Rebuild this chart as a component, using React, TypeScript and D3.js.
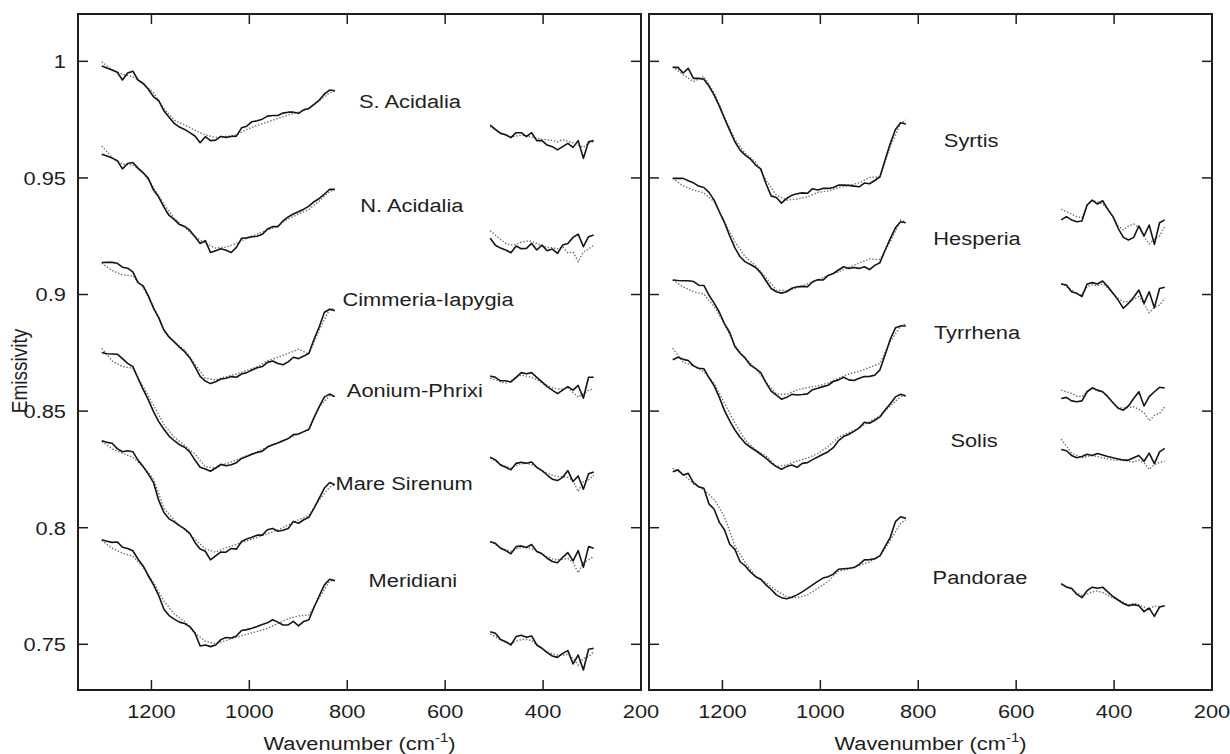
import React from "react";
import * as d3 from "d3";

// Wavenumber grids (cm-1): measured spectra use the full sampling, model fits every other channel
const obsWn = [1301.5, 1290.9, 1280.3, 1269.8, 1259.2, 1248.6, 1238.0, 1227.5, 1216.9, 1206.3, 1195.7, 1185.1, 1174.5, 1164.0, 1153.4, 1142.8, 1132.2, 1121.7, 1111.1, 1100.5, 1089.9, 1079.4, 1068.8, 1058.2, 1047.6, 1037.0, 1026.4, 1015.9, 1005.3, 994.7, 984.1, 973.6, 963.0, 952.4, 941.8, 931.2, 920.6, 910.1, 899.5, 888.9, 878.3, 867.8, 857.2, 846.6, 836.0, 825.4];
const fitWn = [1301.5, 1280.3, 1259.2, 1238.0, 1216.9, 1195.7, 1174.5, 1153.4, 1132.2, 1111.1, 1089.9, 1068.8, 1047.6, 1026.4, 1005.3, 984.1, 963.0, 941.8, 920.6, 899.5, 878.3, 857.2, 836.0, 825.4];
const loWn = [508.0, 497.4, 486.9, 476.3, 465.7, 455.1, 444.6, 434.0, 423.4, 412.9, 402.3, 391.7, 381.1, 370.6, 360.0, 349.4, 338.8, 328.3, 317.7, 307.1, 296.6];

const xTicks = [1200, 1000, 800, 600, 400, 200];
const yTicks = [0.75, 0.8, 0.85, 0.9, 0.95, 1];
const yTickLabels = ["0.75", "0.8", "0.85", "0.9", "0.95", "1"];

// ---- Left panel regions: measured (obs) and model fit (fit) ----
const sAcidaliaObs = [0.9980, 0.9971, 0.9963, 0.9953, 0.9920, 0.9950, 0.9958, 0.9920, 0.9905, 0.9880, 0.9848, 0.9831, 0.9788, 0.9760, 0.9734, 0.9718, 0.9708, 0.9694, 0.9680, 0.9651, 0.9677, 0.9660, 0.9662, 0.9678, 0.9674, 0.9678, 0.9679, 0.9715, 0.9722, 0.9741, 0.9745, 0.9752, 0.9765, 0.9768, 0.9768, 0.9778, 0.9782, 0.9782, 0.9777, 0.9792, 0.9798, 0.9815, 0.9834, 0.9860, 0.9877, 0.9874];
const sAcidaliaFit = [0.9998, 0.9963, 0.9944, 0.9934, 0.9908, 0.9865, 0.9798, 0.9748, 0.9727, 0.9705, 0.9684, 0.9674, 0.9678, 0.9685, 0.9708, 0.9725, 0.9740, 0.9755, 0.9770, 0.9782, 0.9798, 0.9831, 0.9865, 0.9872];
const sAcidaliaObsLo = [0.9727, 0.9708, 0.9691, 0.9685, 0.9673, 0.9694, 0.9694, 0.9677, 0.9694, 0.9660, 0.9660, 0.9641, 0.9634, 0.9620, 0.9634, 0.9648, 0.9631, 0.9660, 0.9584, 0.9655, 0.9660];
const sAcidaliaFitLo = [0.9720, 0.9705, 0.9694, 0.9684, 0.9674, 0.9680, 0.9683, 0.9681, 0.9675, 0.9670, 0.9665, 0.9664, 0.9661, 0.9655, 0.9664, 0.9657, 0.9651, 0.9641, 0.9631, 0.9651, 0.9655];

const nAcidaliaObs = [0.9602, 0.9594, 0.9585, 0.9574, 0.9539, 0.9562, 0.9566, 0.9542, 0.9522, 0.9498, 0.9448, 0.9418, 0.9375, 0.9339, 0.9322, 0.9300, 0.9292, 0.9276, 0.9248, 0.9219, 0.9231, 0.9180, 0.9188, 0.9196, 0.9190, 0.9180, 0.9202, 0.9241, 0.9243, 0.9248, 0.9250, 0.9258, 0.9281, 0.9291, 0.9291, 0.9316, 0.9333, 0.9345, 0.9355, 0.9366, 0.9379, 0.9398, 0.9412, 0.9431, 0.9451, 0.9451];
const nAcidaliaFit = [0.9637, 0.9588, 0.9559, 0.9555, 0.9522, 0.9459, 0.9388, 0.9326, 0.9288, 0.9248, 0.9219, 0.9199, 0.9203, 0.9219, 0.9242, 0.9259, 0.9276, 0.9295, 0.9325, 0.9345, 0.9365, 0.9401, 0.9442, 0.9451];
const nAcidaliaObsLo = [0.9241, 0.9211, 0.9199, 0.9191, 0.9179, 0.9208, 0.9196, 0.9198, 0.9219, 0.9191, 0.9212, 0.9188, 0.9195, 0.9176, 0.9212, 0.9219, 0.9245, 0.9259, 0.9205, 0.9248, 0.9255];
const nAcidaliaFitLo = [0.9274, 0.9255, 0.9236, 0.9219, 0.9212, 0.9215, 0.9224, 0.9229, 0.9228, 0.9219, 0.9209, 0.9202, 0.9201, 0.9196, 0.9205, 0.9179, 0.9182, 0.9141, 0.9182, 0.9196, 0.9211];

const cimmeriaObs = [0.9137, 0.9138, 0.9138, 0.9134, 0.9117, 0.9113, 0.9097, 0.9051, 0.9037, 0.8994, 0.8941, 0.8901, 0.8848, 0.8817, 0.8797, 0.8774, 0.8755, 0.8729, 0.8691, 0.8649, 0.8629, 0.8618, 0.8626, 0.8638, 0.8641, 0.8648, 0.8645, 0.8659, 0.8665, 0.8676, 0.8686, 0.8691, 0.8709, 0.8715, 0.8704, 0.8699, 0.8711, 0.8731, 0.8725, 0.8736, 0.8748, 0.8808, 0.8862, 0.8924, 0.8937, 0.8931];
const cimmeriaFit = [0.9134, 0.9103, 0.9084, 0.9080, 0.9031, 0.8948, 0.8845, 0.8797, 0.8762, 0.8701, 0.8641, 0.8634, 0.8648, 0.8659, 0.8675, 0.8689, 0.8716, 0.8731, 0.8748, 0.8765, 0.8745, 0.8848, 0.8937, 0.8941];
const cimmeriaObsLo = [0.8650, 0.8645, 0.8630, 0.8630, 0.8625, 0.8645, 0.8665, 0.8660, 0.8665, 0.8645, 0.8625, 0.8605, 0.8590, 0.8575, 0.8590, 0.8605, 0.8590, 0.8610, 0.8555, 0.8645, 0.8645];
const cimmeriaFitLo = [0.8640, 0.8635, 0.8625, 0.8620, 0.8630, 0.8645, 0.8655, 0.8650, 0.8645, 0.8635, 0.8620, 0.8610, 0.8600, 0.8595, 0.8595, 0.8600, 0.8580, 0.8560, 0.8575, 0.8590, 0.8595];

const aoniumObs = [0.8751, 0.8746, 0.8745, 0.8744, 0.8725, 0.8705, 0.8691, 0.8641, 0.8593, 0.8548, 0.8498, 0.8455, 0.8422, 0.8393, 0.8373, 0.8356, 0.8345, 0.8325, 0.8290, 0.8259, 0.8252, 0.8242, 0.8256, 0.8272, 0.8266, 0.8270, 0.8279, 0.8297, 0.8305, 0.8315, 0.8323, 0.8328, 0.8346, 0.8356, 0.8363, 0.8373, 0.8382, 0.8399, 0.8402, 0.8412, 0.8422, 0.8473, 0.8519, 0.8561, 0.8573, 0.8562];
const aoniumFit = [0.8769, 0.8715, 0.8691, 0.8684, 0.8605, 0.8526, 0.8443, 0.8388, 0.8353, 0.8316, 0.8262, 0.8255, 0.8275, 0.8290, 0.8309, 0.8325, 0.8346, 0.8365, 0.8383, 0.8403, 0.8419, 0.8519, 0.8566, 0.8562];
const aoniumObsLo = [0.8302, 0.8291, 0.8269, 0.8259, 0.8248, 0.8276, 0.8281, 0.8276, 0.8282, 0.8259, 0.8245, 0.8226, 0.8208, 0.8202, 0.8216, 0.8245, 0.8198, 0.8222, 0.8165, 0.8231, 0.8239];
const aoniumFitLo = [0.8298, 0.8287, 0.8272, 0.8262, 0.8256, 0.8266, 0.8275, 0.8276, 0.8271, 0.8259, 0.8245, 0.8234, 0.8225, 0.8219, 0.8219, 0.8216, 0.8201, 0.8155, 0.8198, 0.8205, 0.8226];

const sirenumObs = [0.8373, 0.8366, 0.8362, 0.8339, 0.8326, 0.8330, 0.8326, 0.8290, 0.8262, 0.8230, 0.8193, 0.8117, 0.8065, 0.8038, 0.8025, 0.8009, 0.7995, 0.7976, 0.7937, 0.7909, 0.7899, 0.7862, 0.7879, 0.7896, 0.7895, 0.7911, 0.7908, 0.7941, 0.7952, 0.7959, 0.7968, 0.7968, 0.7991, 0.7997, 0.7985, 0.7989, 0.7997, 0.8027, 0.8019, 0.8034, 0.8045, 0.8084, 0.8127, 0.8170, 0.8194, 0.8184];
const sirenumFit = [0.8369, 0.8338, 0.8319, 0.8302, 0.8262, 0.8208, 0.8084, 0.8031, 0.7991, 0.7951, 0.7909, 0.7895, 0.7914, 0.7929, 0.7944, 0.7958, 0.7974, 0.7991, 0.8012, 0.8034, 0.8052, 0.8120, 0.8174, 0.8184];
const sirenumObsLo = [0.7940, 0.7933, 0.7912, 0.7902, 0.7888, 0.7919, 0.7922, 0.7915, 0.7928, 0.7898, 0.7888, 0.7869, 0.7855, 0.7850, 0.7873, 0.7893, 0.7858, 0.7902, 0.7830, 0.7919, 0.7912];
const sirenumFitLo = [0.7940, 0.7929, 0.7915, 0.7905, 0.7899, 0.7909, 0.7915, 0.7915, 0.7910, 0.7902, 0.7888, 0.7876, 0.7866, 0.7862, 0.7865, 0.7868, 0.7850, 0.7807, 0.7850, 0.7862, 0.7876];

const meridianiObs = [0.7948, 0.7942, 0.7937, 0.7939, 0.7916, 0.7911, 0.7901, 0.7866, 0.7836, 0.7793, 0.7755, 0.7709, 0.7650, 0.7623, 0.7608, 0.7595, 0.7589, 0.7576, 0.7548, 0.7493, 0.7497, 0.7490, 0.7497, 0.7520, 0.7529, 0.7527, 0.7536, 0.7559, 0.7563, 0.7569, 0.7576, 0.7585, 0.7592, 0.7605, 0.7595, 0.7583, 0.7583, 0.7598, 0.7579, 0.7598, 0.7605, 0.7659, 0.7708, 0.7755, 0.7779, 0.7773];
const meridianiFit = [0.7945, 0.7912, 0.7891, 0.7878, 0.7831, 0.7765, 0.7686, 0.7630, 0.7598, 0.7548, 0.7513, 0.7503, 0.7516, 0.7530, 0.7543, 0.7555, 0.7568, 0.7589, 0.7610, 0.7622, 0.7626, 0.7698, 0.7771, 0.7773];
const meridianiObsLo = [0.7554, 0.7547, 0.7521, 0.7511, 0.7497, 0.7533, 0.7539, 0.7530, 0.7536, 0.7497, 0.7483, 0.7464, 0.7450, 0.7444, 0.7461, 0.7473, 0.7416, 0.7454, 0.7390, 0.7479, 0.7483];
const meridianiFitLo = [0.7544, 0.7533, 0.7519, 0.7509, 0.7504, 0.7513, 0.7520, 0.7521, 0.7516, 0.7497, 0.7481, 0.7469, 0.7459, 0.7454, 0.7454, 0.7457, 0.7440, 0.7411, 0.7440, 0.7447, 0.7469];

// ---- Right panel regions ----
const syrtisObs = [0.9974, 0.9974, 0.9950, 0.9970, 0.9927, 0.9927, 0.9923, 0.9894, 0.9855, 0.9808, 0.9755, 0.9704, 0.9655, 0.9619, 0.9598, 0.9581, 0.9555, 0.9539, 0.9476, 0.9423, 0.9416, 0.9392, 0.9412, 0.9426, 0.9432, 0.9436, 0.9434, 0.9454, 0.9448, 0.9455, 0.9455, 0.9459, 0.9469, 0.9469, 0.9468, 0.9465, 0.9462, 0.9478, 0.9475, 0.9489, 0.9505, 0.9577, 0.9648, 0.9708, 0.9737, 0.9731];
const syrtisFit = [0.9977, 0.9943, 0.9913, 0.9935, 0.9865, 0.9760, 0.9665, 0.9605, 0.9568, 0.9491, 0.9426, 0.9405, 0.9409, 0.9419, 0.9438, 0.9444, 0.9458, 0.9468, 0.9479, 0.9502, 0.9505, 0.9634, 0.9734, 0.9748];
const syrtisObsLo = [0.9320, 0.9334, 0.9320, 0.9312, 0.9315, 0.9384, 0.9405, 0.9388, 0.9402, 0.9365, 0.9334, 0.9284, 0.9245, 0.9234, 0.9245, 0.9294, 0.9251, 0.9298, 0.9215, 0.9308, 0.9320];
const syrtisFitLo = [0.9365, 0.9355, 0.9345, 0.9334, 0.9329, 0.9384, 0.9402, 0.9397, 0.9388, 0.9368, 0.9334, 0.9294, 0.9277, 0.9294, 0.9302, 0.9288, 0.9248, 0.9217, 0.9239, 0.9251, 0.9291];

const hesperiaObs = [0.9498, 0.9498, 0.9498, 0.9488, 0.9479, 0.9465, 0.9459, 0.9438, 0.9405, 0.9355, 0.9308, 0.9251, 0.9200, 0.9162, 0.9140, 0.9129, 0.9116, 0.9093, 0.9059, 0.9026, 0.9012, 0.9006, 0.9012, 0.9027, 0.9033, 0.9035, 0.9033, 0.9055, 0.9063, 0.9062, 0.9082, 0.9090, 0.9105, 0.9119, 0.9112, 0.9116, 0.9112, 0.9119, 0.9107, 0.9125, 0.9136, 0.9190, 0.9240, 0.9286, 0.9312, 0.9308];
const hesperiaFit = [0.9498, 0.9466, 0.9448, 0.9436, 0.9398, 0.9311, 0.9226, 0.9162, 0.9123, 0.9072, 0.9019, 0.9017, 0.9029, 0.9045, 0.9063, 0.9082, 0.9097, 0.9116, 0.9135, 0.9152, 0.9150, 0.9226, 0.9319, 0.9312];
const hesperiaObsLo = [0.9045, 0.9041, 0.9012, 0.9005, 0.8991, 0.9045, 0.9051, 0.9045, 0.9058, 0.9034, 0.9005, 0.8976, 0.8941, 0.8962, 0.8988, 0.9019, 0.8962, 0.9012, 0.8943, 0.9026, 0.9031];
const hesperiaFitLo = [0.9048, 0.9034, 0.9019, 0.9002, 0.8999, 0.9034, 0.9041, 0.9038, 0.9045, 0.9028, 0.9005, 0.8984, 0.8969, 0.8969, 0.8979, 0.8991, 0.8959, 0.8922, 0.8945, 0.8955, 0.8984];

const tyrrhenaObs = [0.9062, 0.9060, 0.9059, 0.9059, 0.9056, 0.9040, 0.9039, 0.8997, 0.8963, 0.8924, 0.8874, 0.8837, 0.8777, 0.8748, 0.8727, 0.8697, 0.8682, 0.8665, 0.8622, 0.8586, 0.8569, 0.8551, 0.8559, 0.8572, 0.8569, 0.8571, 0.8574, 0.8592, 0.8598, 0.8605, 0.8611, 0.8627, 0.8634, 0.8645, 0.8634, 0.8631, 0.8641, 0.8648, 0.8649, 0.8654, 0.8677, 0.8741, 0.8808, 0.8857, 0.8865, 0.8865];
const tyrrhenaFit = [0.9062, 0.9033, 0.9012, 0.9002, 0.8948, 0.8874, 0.8780, 0.8727, 0.8682, 0.8625, 0.8574, 0.8572, 0.8591, 0.8601, 0.8608, 0.8621, 0.8641, 0.8659, 0.8671, 0.8687, 0.8705, 0.8798, 0.8865, 0.8874];
const tyrrhenaObsLo = [0.8554, 0.8559, 0.8544, 0.8540, 0.8544, 0.8583, 0.8600, 0.8590, 0.8583, 0.8562, 0.8536, 0.8512, 0.8504, 0.8522, 0.8554, 0.8583, 0.8522, 0.8562, 0.8583, 0.8602, 0.8599];
const tyrrhenaFitLo = [0.8590, 0.8583, 0.8576, 0.8564, 0.8562, 0.8583, 0.8597, 0.8587, 0.8582, 0.8562, 0.8536, 0.8516, 0.8512, 0.8516, 0.8519, 0.8507, 0.8493, 0.8459, 0.8482, 0.8490, 0.8519];

const solisObs = [0.8720, 0.8731, 0.8722, 0.8717, 0.8694, 0.8684, 0.8682, 0.8644, 0.8608, 0.8559, 0.8502, 0.8458, 0.8419, 0.8388, 0.8362, 0.8345, 0.8331, 0.8315, 0.8298, 0.8278, 0.8262, 0.8251, 0.8262, 0.8269, 0.8259, 0.8276, 0.8279, 0.8292, 0.8303, 0.8315, 0.8326, 0.8343, 0.8373, 0.8391, 0.8401, 0.8413, 0.8428, 0.8452, 0.8448, 0.8461, 0.8475, 0.8505, 0.8532, 0.8561, 0.8572, 0.8565];
const solisFit = [0.8770, 0.8709, 0.8694, 0.8669, 0.8619, 0.8534, 0.8448, 0.8376, 0.8333, 0.8309, 0.8262, 0.8269, 0.8286, 0.8298, 0.8318, 0.8348, 0.8388, 0.8408, 0.8428, 0.8455, 0.8479, 0.8522, 0.8562, 0.8569];
const solisObsLo = [0.8335, 0.8330, 0.8310, 0.8300, 0.8305, 0.8315, 0.8310, 0.8318, 0.8312, 0.8305, 0.8300, 0.8295, 0.8290, 0.8290, 0.8300, 0.8310, 0.8285, 0.8320, 0.8275, 0.8325, 0.8340];
const solisFitLo = [0.8380, 0.8350, 0.8320, 0.8310, 0.8300, 0.8305, 0.8310, 0.8305, 0.8300, 0.8295, 0.8290, 0.8290, 0.8288, 0.8285, 0.8282, 0.8290, 0.8278, 0.8250, 0.8270, 0.8280, 0.8285];

const pandoraeObs = [0.8240, 0.8248, 0.8226, 0.8233, 0.8193, 0.8176, 0.8169, 0.8102, 0.8079, 0.8023, 0.7990, 0.7929, 0.7907, 0.7854, 0.7836, 0.7810, 0.7790, 0.7779, 0.7755, 0.7735, 0.7712, 0.7700, 0.7695, 0.7702, 0.7712, 0.7725, 0.7740, 0.7755, 0.7770, 0.7784, 0.7790, 0.7801, 0.7822, 0.7824, 0.7826, 0.7829, 0.7843, 0.7862, 0.7863, 0.7867, 0.7879, 0.7919, 0.7959, 0.8026, 0.8047, 0.8040];
const pandoraeFit = [0.8255, 0.8230, 0.8188, 0.8162, 0.8122, 0.8047, 0.7922, 0.7850, 0.7790, 0.7765, 0.7730, 0.7705, 0.7700, 0.7712, 0.7740, 0.7770, 0.7814, 0.7822, 0.7839, 0.7853, 0.7879, 0.7945, 0.8019, 0.8033];
const pandoraeObsLo = [0.7760, 0.7745, 0.7740, 0.7715, 0.7700, 0.7730, 0.7745, 0.7740, 0.7745, 0.7725, 0.7705, 0.7690, 0.7675, 0.7665, 0.7670, 0.7665, 0.7640, 0.7655, 0.7620, 0.7660, 0.7665];
const pandoraeFitLo = [0.7755, 0.7750, 0.7735, 0.7720, 0.7710, 0.7715, 0.7725, 0.7728, 0.7722, 0.7710, 0.7700, 0.7690, 0.7680, 0.7670, 0.7675, 0.7670, 0.7660, 0.7650, 0.7665, 0.7660, 0.7665];

type Region = {
  name: string;
  obs: number[];
  fit: number[];
  obsLo: number[];
  fitLo: number[];
  labelWn: number;
  labelVal: number;
};

const leftRegions: Region[] = [
  { name: "S. Acidalia", obs: sAcidaliaObs, fit: sAcidaliaFit, obsLo: sAcidaliaObsLo, fitLo: sAcidaliaFitLo, labelWn: 672, labelVal: 0.983 },
  { name: "N. Acidalia", obs: nAcidaliaObs, fit: nAcidaliaFit, obsLo: nAcidaliaObsLo, fitLo: nAcidaliaFitLo, labelWn: 668, labelVal: 0.9384 },
  { name: "Cimmeria-Iapygia", obs: cimmeriaObs, fit: cimmeriaFit, obsLo: cimmeriaObsLo, fitLo: cimmeriaFitLo, labelWn: 635, labelVal: 0.8981 },
  { name: "Aonium-Phrixi", obs: aoniumObs, fit: aoniumFit, obsLo: aoniumObsLo, fitLo: aoniumFitLo, labelWn: 662, labelVal: 0.8591 },
  { name: "Mare Sirenum", obs: sirenumObs, fit: sirenumFit, obsLo: sirenumObsLo, fitLo: sirenumFitLo, labelWn: 684, labelVal: 0.8193 },
  { name: "Meridiani", obs: meridianiObs, fit: meridianiFit, obsLo: meridianiObsLo, fitLo: meridianiFitLo, labelWn: 666, labelVal: 0.7777 },
];

const rightRegions: Region[] = [
  { name: "Syrtis", obs: syrtisObs, fit: syrtisFit, obsLo: syrtisObsLo, fitLo: syrtisFitLo, labelWn: 692, labelVal: 0.9663 },
  { name: "Hesperia", obs: hesperiaObs, fit: hesperiaFit, obsLo: hesperiaObsLo, fitLo: hesperiaFitLo, labelWn: 680, labelVal: 0.9243 },
  { name: "Tyrrhena", obs: tyrrhenaObs, fit: tyrrhenaFit, obsLo: tyrrhenaObsLo, fitLo: tyrrhenaFitLo, labelWn: 680, labelVal: 0.884 },
  { name: "Solis", obs: solisObs, fit: solisFit, obsLo: solisObsLo, fitLo: solisFitLo, labelWn: 686, labelVal: 0.8377 },
  { name: "Pandorae", obs: pandoraeObs, fit: pandoraeFit, obsLo: pandoraeObsLo, fitLo: pandoraeFitLo, labelWn: 674, labelVal: 0.779 },
];

const W = 1230;
const H = 754;
const TOP = 14;
const BOTTOM = 690;
const FONT = "'Liberation Sans', Arial, Helvetica, sans-serif";
const FS = 19;
const SX = 1.15; // horizontal stretch of lettering
const INK = "#1e1e1e";

const y = d3.scaleLinear().domain([0.7304, 1.0203]).range([BOTTOM, TOP]);

function Label({ x, yy, text, anchor = "middle", size = FS }: { x: number; yy: number; text: React.ReactNode; anchor?: string; size?: number }) {
  return (
    <text
      transform={`translate(${x},${yy}) scale(${SX},1)`}
      textAnchor={anchor as any}
      dominantBaseline="central"
      fontFamily={FONT}
      fontSize={size}
      fill={INK}
    >
      {text}
    </text>
  );
}

function Panel({ left, right, regions, showYLabels }: { left: number; right: number; regions: Region[]; showYLabels: boolean }) {
  const x = d3.scaleLinear().domain([1350, 200]).range([left, right]);
  const line = d3
    .line<[number, number]>()
    .x((d) => x(d[0]))
    .y((d) => y(d[1]));
  const pts = (wn: number[], vals: number[]) => wn.map((w, i) => [w, vals[i]] as [number, number]);
  const tickLen = 10;
  return (
    <g>
      {regions.map((r) => (
        <g key={r.name}>
          <path d={line(pts(fitWn, r.fit)) || ""} fill="none" stroke="#6c6c6c" strokeWidth={1.4} strokeDasharray="1.4 1.8" />
          <path d={line(pts(loWn, r.fitLo)) || ""} fill="none" stroke="#6c6c6c" strokeWidth={1.4} strokeDasharray="1.4 1.8" />
          <path d={line(pts(obsWn, r.obs)) || ""} fill="none" stroke="#151515" strokeWidth={1.6} strokeLinejoin="round" />
          <path d={line(pts(loWn, r.obsLo)) || ""} fill="none" stroke="#151515" strokeWidth={1.6} strokeLinejoin="round" />
          <Label x={x(r.labelWn)} yy={y(r.labelVal)} text={r.name} />
        </g>
      ))}
      {xTicks.map((t) => (
        <g key={"xt" + t}>
          <line x1={x(t)} x2={x(t)} y1={BOTTOM} y2={BOTTOM - tickLen} stroke={INK} strokeWidth={1.5} />
          <line x1={x(t)} x2={x(t)} y1={TOP} y2={TOP + tickLen} stroke={INK} strokeWidth={1.5} />
          <Label x={x(t)} yy={711} text={String(t)} />
        </g>
      ))}
      {yTicks.map((t, i) => (
        <g key={"yt" + t}>
          <line x1={left} x2={left + tickLen} y1={y(t)} y2={y(t)} stroke={INK} strokeWidth={1.5} />
          <line x1={right} x2={right - tickLen} y1={y(t)} y2={y(t)} stroke={INK} strokeWidth={1.5} />
          {showYLabels && <Label x={left - 12} yy={y(t)} text={yTickLabels[i]} anchor="end" />}
        </g>
      ))}
      <rect x={left} y={TOP} width={right - left} height={BOTTOM - TOP} fill="none" stroke={INK} strokeWidth={2} />
      <text
        transform={`translate(${(left + right) / 2},743) scale(${SX},1)`}
        textAnchor="middle"
        dominantBaseline="central"
        fontFamily={FONT}
        fontSize={FS}
        fill={INK}
      >
        Wavenumber (cm
        <tspan fontSize={13} dy={-6}>-1</tspan>
        <tspan dy={6}>)</tspan>
      </text>
    </g>
  );
}

export default function App() {
  return (
    <svg width={W} height={H} viewBox={`0 0 ${W} ${H}`} style={{ display: "block", position: "absolute", left: 0, top: 0, background: "#fff" }}>
      <rect x={0} y={0} width={W} height={H} fill="#fff" />
      <Panel left={78} right={641} regions={leftRegions} showYLabels={true} />
      <Panel left={649} right={1212} regions={rightRegions} showYLabels={false} />
      <text
        transform={`translate(19,371) rotate(-90) scale(1,${SX})`}
        textAnchor="middle"
        dominantBaseline="central"
        fontFamily={FONT}
        fontSize={FS}
        fill={INK}
      >
        Emissivity
      </text>
    </svg>
  );
}
